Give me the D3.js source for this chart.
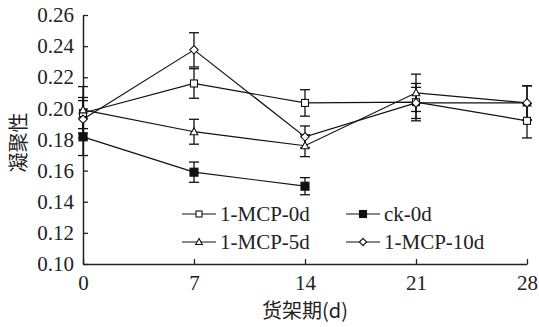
<html>
<head>
<script src="https://cdnjs.cloudflare.com/ajax/libs/d3/7.8.5/d3.min.js"></script>
</head>
<body style="margin:0">
<script>
const width = 539;
const height = 327;
const SERIF = `"Liberation Serif"`;
const CJK = `"Noto Sans CJK SC"`;

// data
const days = [0, 7, 14, 21, 28];
const mcp0 = [0.197, 0.216, 0.2035, 0.204, 0.192];
const mcp0Err = [0.010, 0.0095, 0.0085, 0.012, 0.011];
const ck0 = [0.1817, 0.159, 0.150];
const ck0Err = [0.012, 0.0065, 0.0055];
const mcp5 = [0.199, 0.185, 0.176, 0.210, 0.2035];
const mcp5Err = [0.015, 0.008, 0.007, 0.012, 0.011];
const mcp10 = [0.193, 0.2376, 0.1817, 0.2035, 0.2035];
const mcp10Err = [0.012, 0.011, 0.007, 0.010, 0.011];
const yTicks = [0.10, 0.12, 0.14, 0.16, 0.18, 0.20, 0.22, 0.24, 0.26];
const xTicks = [0, 7, 14, 21, 28];

const series = [
  { name: "1-MCP-0d", vals: mcp0, err: mcp0Err, sym: "square" },
  { name: "ck-0d", vals: ck0, err: ck0Err, sym: "filled" },
  { name: "1-MCP-5d", vals: mcp5, err: mcp5Err, sym: "triangle" },
  { name: "1-MCP-10d", vals: mcp10, err: mcp10Err, sym: "diamond" }
];

const m = { left: 83, right: 12, top: 15, bottom: 63 };

const svg = d3.select("body").append("svg")
  .attr("width", width).attr("height", height);

const x = d3.scaleLinear().domain([0, 28]).range([m.left, width - m.right]);
const y = d3.scaleLinear().domain([0.10, 0.26]).range([height - m.bottom, m.top]);

// axes, ticks point inward
const gx = svg.append("g")
  .attr("transform", `translate(0,${height - m.bottom})`)
  .call(d3.axisBottom(x).tickValues(xTicks).tickSizeInner(-5).tickSizeOuter(0).tickPadding(15));
const gy = svg.append("g")
  .attr("transform", `translate(${m.left},0)`)
  .call(d3.axisLeft(y).tickValues(yTicks).tickSizeInner(-5).tickSizeOuter(0).tickPadding(9)
    .tickFormat(d3.format(".2f")));
[gx, gy].forEach(g => {
  g.attr("font-family", null).attr("font-size", null);
  g.select(".domain").attr("stroke", "#222").attr("stroke-width", 1.5);
  g.selectAll(".tick line").attr("stroke", "#222").attr("stroke-width", 1.3);
  g.selectAll(".tick text")
    .style("font-family", SERIF).style("font-size", "21px").attr("fill", "#222");
});
gx.selectAll(".tick text").attr("dy", "0.5em");

function drawSym(g, sym, cx, cy, s) {
  if (sym === "square" || sym === "filled") {
    g.append("rect").attr("x", cx - s / 2).attr("y", cy - s / 2)
      .attr("width", s).attr("height", s)
      .attr("fill", sym === "filled" ? "#111" : "#fff")
      .attr("stroke", "#111").attr("stroke-width", 1.1);
  } else if (sym === "triangle") {
    const h = s * 0.95;
    g.append("path")
      .attr("d", `M${cx},${cy - h * 0.6}L${cx + s * 0.55},${cy + h * 0.45}L${cx - s * 0.55},${cy + h * 0.45}Z`)
      .attr("fill", "#fff").attr("stroke", "#111").attr("stroke-width", 1.1);
  } else {
    const r = s * 0.6;
    g.append("path")
      .attr("d", `M${cx},${cy - r}L${cx + r},${cy}L${cx},${cy + r}L${cx - r},${cy}Z`)
      .attr("fill", "#fff").attr("stroke", "#111").attr("stroke-width", 1.1);
  }
}

const line = d3.line().x((d, i) => x(days[i])).y(d => y(d));
const plot = svg.append("g");

series.forEach(s => {
  plot.append("path").datum(s.vals).attr("d", line)
    .attr("fill", "none").attr("stroke", "#111").attr("stroke-width", 1.2);
});

// error bars
series.forEach(s => {
  s.vals.forEach((v, i) => {
    const cx = x(days[i]);
    const e = s.err[i];
    plot.append("line").attr("x1", cx).attr("x2", cx)
      .attr("y1", y(v - e)).attr("y2", y(v + e))
      .attr("stroke", "#111").attr("stroke-width", 1.3);
    [v - e, v + e].forEach(t => {
      plot.append("line").attr("x1", cx - 5).attr("x2", cx + 5)
        .attr("y1", y(t)).attr("y2", y(t))
        .attr("stroke", "#111").attr("stroke-width", 1.3);
    });
  });
});

series.forEach(s => {
  s.vals.forEach((v, i) => drawSym(plot, s.sym, x(days[i]), y(v), s.sym === "filled" ? 8 : 7));
});

// legend
const legPos = [[182, 214], [346, 214], [182, 242], [346, 242]];
series.forEach((s, i) => {
  const [lx, ly] = legPos[i];
  const g = svg.append("g");
  g.append("line").attr("x1", lx).attr("x2", lx + 34).attr("y1", ly).attr("y2", ly)
    .attr("stroke", "#111").attr("stroke-width", 1.2);
  drawSym(g, s.sym, lx + 17, ly, s.sym === "filled" ? 7 : 6);
  g.append("text").attr("x", lx + 38).attr("y", ly).attr("dy", "0.35em")
    .style("font-family", SERIF).style("font-size", "21px").attr("fill", "#222")
    .text(s.name);
});

// titles
svg.append("text").attr("x", x(14)).attr("y", 318)
  .attr("text-anchor", "middle").style("font-size", "20px")
  .style("font-family", CJK).attr("fill", "#222").text("货架期(d)");
svg.append("text")
  .attr("transform", `translate(26,${y(0.178)}) rotate(-90)`)
  .attr("text-anchor", "middle").style("font-size", "20px")
  .style("font-family", CJK).attr("fill", "#222").text("凝聚性");
</script>
</body>
</html>
